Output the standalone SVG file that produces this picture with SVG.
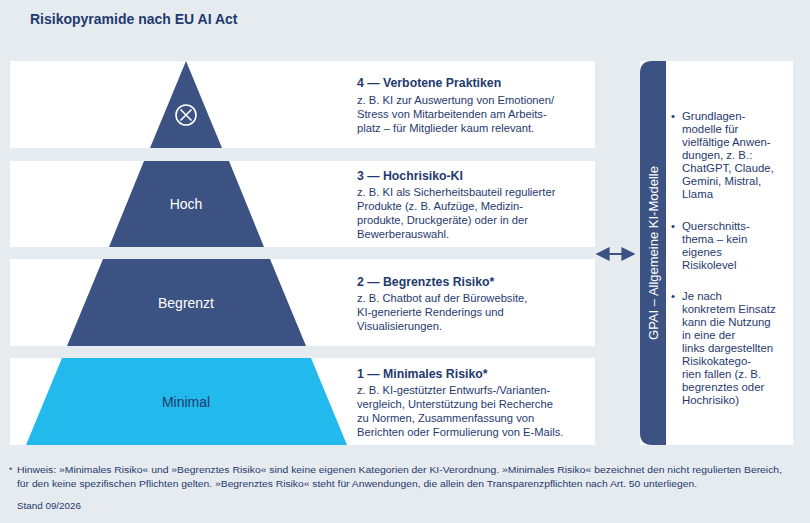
<svg xmlns="http://www.w3.org/2000/svg" width="810" height="523" viewBox="0 0 810 523">
<style>
text{font-family:"Liberation Sans","DejaVu Sans",sans-serif;fill:#1f3a6e}
.h{font-size:12.3px;font-weight:bold}
.b{font-size:11.2px}
.l{font-size:14px;fill:#fff;text-anchor:middle}
.r{font-size:11.4px}
.f{font-size:8.5px}
.band{fill:#fff}
.dk{fill:#3b5282}
</style>
<defs>
<marker id="ah" viewBox="0 0 10 10" refX="9" refY="5" markerWidth="7" markerHeight="7" orient="auto-start-reverse"><path d="M0,0 L10,5 L0,10z" fill="#3b5282"/></marker>
</defs>
<rect width="810" height="523" fill="#e6ebf0"/>
<text x="30" y="24" style="font-size:14px;font-weight:bold">Risikopyramide nach EU AI Act</text>
<g id="level4">
<rect class="band" x="10" y="61" width="585" height="87"/>
<polygon class="dk" points="186,61 222,148 150,148"/>
<circle cx="186" cy="115" r="10" fill="none" stroke="#fff" stroke-width="1.6"/>
<path d="M180.5,109.5 L191.5,120.5 M191.5,109.5 L180.5,120.5" stroke="#fff" stroke-width="1.6"/>
<text class="h" x="357" y="87">4 — Verbotene Praktiken</text>
<text class="b" x="357" y="104">z. B. KI zur Auswertung von Emotionen/</text>
<text class="b" x="357" y="118">Stress von Mitarbeitenden am Arbeits-</text>
<text class="b" x="357" y="132">platz – für Mitglieder kaum relevant.</text>
</g>
<g id="level3">
<rect class="band" x="10" y="161" width="585" height="86"/>
<polygon class="dk" points="144,161 229,161 264,247 109,247"/>
<text class="l" x="186" y="209">Hoch</text>
<text class="h" x="357" y="180">3 — Hochrisiko-KI</text>
<text class="b" x="357" y="196">z. B. KI als Sicherheitsbauteil regulierter</text>
<text class="b" x="357" y="210">Produkte (z. B. Aufzüge, Medizin-</text>
<text class="b" x="357" y="224">produkte, Druckgeräte) oder in der</text>
<text class="b" x="357" y="238">Bewerberauswahl.</text>
</g>
<g id="level2">
<rect class="band" x="10" y="259" width="585" height="87"/>
<polygon class="dk" points="103,259 270,259 306,346 67,346"/>
<text class="l" x="186" y="308">Begrenzt</text>
<text class="h" x="357" y="286">2 — Begrenztes Risiko*</text>
<text class="b" x="357" y="302">z. B. Chatbot auf der Bürowebsite,</text>
<text class="b" x="357" y="316">KI-generierte Renderings und</text>
<text class="b" x="357" y="330">Visualisierungen.</text>
</g>
<g id="level1">
<rect class="band" x="10" y="358" width="585" height="87"/>
<polygon points="62,358 311,358 347,445 26,445" fill="#22b9ec"/>
<text class="l" x="186" y="407" style="fill:#1f3a6e">Minimal</text>
<text class="h" x="357" y="378">1 — Minimales Risiko*</text>
<text class="b" x="357" y="394">z. B. KI-gestützter Entwurfs-/Varianten-</text>
<text class="b" x="357" y="408">vergleich, Unterstützung bei Recherche</text>
<text class="b" x="357" y="422">zu Normen, Zusammenfassung von</text>
<text class="b" x="357" y="436">Berichten oder Formulierung von E-Mails.</text>
</g>
<g id="gpai">
<rect class="band" x="640" y="61" width="153" height="384"/>
<path class="dk" d="M666,61 L666,445 L652,445 Q640,445 640,433 L640,73 Q640,61 652,61 Z"/>
<text x="658" y="253" transform="rotate(-90 658 253)" style="font-size:13px;fill:#fff;text-anchor:middle">GPAI – Allgemeine KI-Modelle</text>
<g class="r">
<text x="671" y="120">•</text>
<text x="682" y="120">Grundlagen-</text>
<text x="682" y="133">modelle für</text>
<text x="682" y="146">vielfältige Anwen-</text>
<text x="682" y="159">dungen, z. B.:</text>
<text x="682" y="172">ChatGPT, Claude,</text>
<text x="682" y="185">Gemini, Mistral,</text>
<text x="682" y="198">Llama</text>
<text x="671" y="230">•</text>
<text x="682" y="230">Querschnitts-</text>
<text x="682" y="243">thema – kein</text>
<text x="682" y="256">eigenes</text>
<text x="682" y="269">Risikolevel</text>
<text x="671" y="300">•</text>
<text x="682" y="300">Je nach</text>
<text x="682" y="313">konkretem Einsatz</text>
<text x="682" y="326">kann die Nutzung</text>
<text x="682" y="339">in eine der</text>
<text x="682" y="352">links dargestellten</text>
<text x="682" y="365">Risikokatego-</text>
<text x="682" y="378">rien fallen (z. B.</text>
<text x="682" y="391">begrenztes oder</text>
<text x="682" y="404">Hochrisiko)</text>
</g>
</g>
<g id="connectors">
<line x1="597" y1="254" x2="634" y2="254" stroke="#3b5282" stroke-width="2" marker-start="url(#ah)" marker-end="url(#ah)"/>
</g>
<g id="footer">
<text class="f" x="9" y="473">*</text>
<text class="f" x="17" y="473" textLength="765" lengthAdjust="spacingAndGlyphs">Hinweis: »Minimales Risiko« und »Begrenztes Risiko« sind keine eigenen Kategorien der KI-Verordnung. »Minimales Risiko« bezeichnet den nicht regulierten Bereich,</text>
<text class="f" x="17" y="487" textLength="680" lengthAdjust="spacingAndGlyphs">für den keine spezifischen Pflichten gelten. »Begrenztes Risiko« steht für Anwendungen, die allein den Transparenzpflichten nach Art. 50 unterliegen.</text>
<text class="f" x="17" y="509" textLength="64" lengthAdjust="spacingAndGlyphs">Stand 09/2026</text>
</g>
</svg>
